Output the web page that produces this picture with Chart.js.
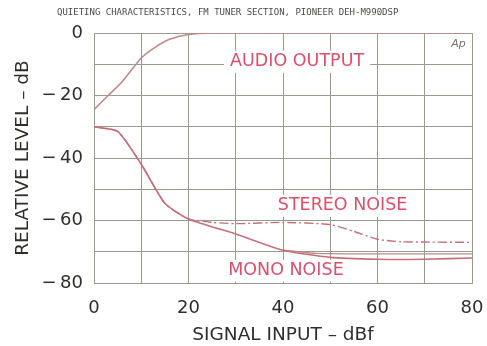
<!DOCTYPE html>
<html>
<head>
<meta charset="utf-8">
<script src="https://cdn.jsdelivr.net/npm/chart.js@4.4.1/dist/chart.umd.min.js"></script>
<style>
  html, body { margin: 0; padding: 0; background: #fff; }
  #wrap { width: 487px; height: 346px; position: relative; }
</style>
</head>
<body>
<div id="wrap"><canvas id="quieting" width="487" height="346"></canvas></div>
<script>
// signal input (dBf) vs relative level (dB)
const audioOutput = [
  {x: 0, y: -24.5}, {x: 3, y: -20}, {x: 6, y: -15.5}, {x: 10, y: -8},
  {x: 13, y: -4.5}, {x: 16, y: -2}, {x: 20, y: -0.5}, {x: 25, y: 0},
  {x: 40, y: 0}, {x: 60, y: 0}, {x: 80, y: 0}
];
const monoNoise = [
  {x: 0, y: -30}, {x: 5, y: -31.5}, {x: 10, y: -42}, {x: 15, y: -54.5},
  {x: 20, y: -59.5}, {x: 30, y: -64.3}, {x: 40, y: -69.5}, {x: 50, y: -71.8},
  {x: 60, y: -72.4}, {x: 70, y: -72.4}, {x: 80, y: -72}
];
const monoNoise2 = [
  {x: 40, y: -69.5}, {x: 47, y: -70.5}, {x: 60, y: -70.7}, {x: 80, y: -70.7}
];
const stereoNoise = [
  {x: 0, y: -30}, {x: 5, y: -31.5}, {x: 10, y: -42}, {x: 15, y: -54.5},
  {x: 20, y: -59.5}, {x: 25, y: -60.6}, {x: 30, y: -61}, {x: 40, y: -60.6},
  {x: 50, y: -61.3}, {x: 55, y: -63.5}, {x: 60, y: -66}, {x: 65, y: -66.8},
  {x: 70, y: -66.9}, {x: 80, y: -67}
];
const xTicks = [0, 20, 40, 60, 80];
const yTicks = [0, -20, -40, -60, -80];

const title = 'QUIETING CHARACTERISTICS, FM TUNER SECTION, PIONEER DEH-M990DSP';
// curve labels, anchored in data units
const curveLabels = [
  {text: 'AUDIO OUTPUT', x: 28.8, y: -9.2},
  {text: 'STEREO NOISE', x: 38.9, y: -55.3},
  {text: 'MONO NOISE', x: 28.4, y: -76.1}
];

const gridColor = '#969c8a';
const textColor = '#2e2e2a';
const curveTextColor = '#d9506a';

const annotate = {
  id: 'annotate',
  afterDraw(chart) {
    const ctx = chart.ctx;
    const xs = chart.scales.x, ys = chart.scales.y;
    ctx.save();
    ctx.fillStyle = '#4a4a44';
    ctx.font = '9px "DejaVu Sans Mono"';
    ctx.textBaseline = 'middle';
    ctx.textAlign = 'left';
    ctx.fillText(title, 57, 13);

    // labels sit on a white patch that breaks the grid behind them
    ctx.font = '17.5px "DejaVu Sans"';
    curveLabels.forEach(l => {
      const px = xs.getPixelForValue(l.x), py = ys.getPixelForValue(l.y);
      const w = ctx.measureText(l.text).width;
      ctx.fillStyle = '#fff';
      ctx.fillRect(px - 6, py - 11, w + 12, 22);
      ctx.fillStyle = curveTextColor;
      ctx.fillText(l.text, px, py);
    });

    ctx.fillStyle = '#77736c';
    ctx.font = 'italic 11px "DejaVu Sans"';
    ctx.fillText('Ap', xs.getPixelForValue(75.6), ys.getPixelForValue(-3.6));
    ctx.restore();
  }
};

new Chart(document.getElementById('quieting'), {
  type: 'line',
  data: {
    datasets: [
      {label: 'Audio output', data: audioOutput, borderColor: '#bf8a88', borderWidth: 1.6},
      {label: 'Mono noise', data: monoNoise, borderColor: '#c4707c', borderWidth: 1.6},
      {label: 'Mono noise', data: monoNoise2, borderColor: '#b98c8a', borderWidth: 1.3},
      {label: 'Stereo noise', data: stereoNoise, borderColor: '#c4707c', borderWidth: 1.4,
        borderDash: [9, 3, 2, 3]}
    ]
  },
  options: {
    responsive: false,
    animation: false,
    layout: {padding: {top: 33, right: 15, left: 0, bottom: 0}},
    elements: {
      point: {radius: 0},
      line: {tension: 0.2, fill: false}
    },
    plugins: {legend: {display: false}, tooltip: {enabled: false}},
    scales: {
      x: {
        type: 'linear', min: 0, max: 80,
        afterFit(s) { s.height = 63; s.paddingLeft = 0; s.paddingRight = 0; },
        grid: {color: gridColor, lineWidth: 1, drawTicks: false},
        border: {color: gridColor},
        ticks: {
          stepSize: 10, autoSkip: false,
          padding: 15, color: textColor, maxRotation: 0,
          font: {family: 'DejaVu Sans', size: 18},
          callback: v => xTicks.includes(v) ? String(v) : ''
        },
        title: {
          display: true, text: 'SIGNAL INPUT – dBf', color: textColor,
          font: {family: 'DejaVu Sans', size: 18.5}, padding: {top: 9, bottom: 0}
        }
      },
      y: {
        type: 'linear', min: -80, max: 0,
        afterFit(s) { s.width = 94; },
        grid: {color: gridColor, lineWidth: 1, drawTicks: false},
        border: {color: gridColor},
        ticks: {
          stepSize: 10, autoSkip: false,
          padding: 11, color: textColor,
          font: {family: 'DejaVu Sans', size: 18},
          callback: v => yTicks.includes(v) ? (v < 0 ? '−\u2009' + Math.abs(v) : String(v)) : ''
        },
        title: {
          display: true, text: 'RELATIVE LEVEL – dB', color: textColor,
          font: {family: 'DejaVu Sans', size: 18.5}, padding: {top: 12, bottom: 0}
        }
      }
    }
  },
  plugins: [annotate]
});
</script>
</body>
</html>
